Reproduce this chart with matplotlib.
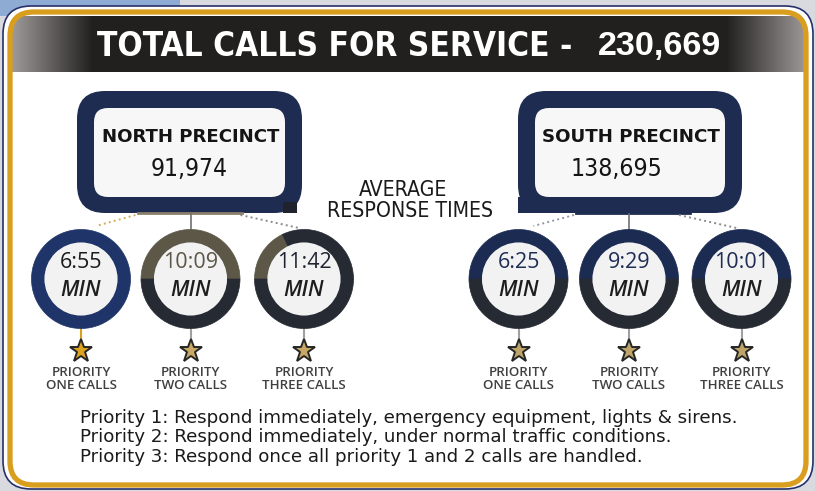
import numpy as np
import matplotlib.pyplot as plt
from matplotlib import font_manager
from matplotlib.patches import FancyBboxPatch, Wedge, Circle, Rectangle

total_calls = "230,669"
precincts = ["NORTH PRECINCT", "SOUTH PRECINCT"]
precinct_calls = ["91,974", "138,695"]
north_times = ["6:55", "10:09", "11:42"]
south_times = ["6:25", "9:29", "10:01"]
priority_labels = ["PRIORITY\nONE CALLS", "PRIORITY\nTWO CALLS", "PRIORITY\nTHREE CALLS"]
definitions = [
    "Priority 1: Respond immediately, emergency equipment, lights & sirens.",
    "Priority 2: Respond immediately, under normal traffic conditions.",
    "Priority 3: Respond once all priority 1 and 2 calls are handled.",
]

W, H = 815, 491
names = {f.name for f in font_manager.fontManager.ttflist}
BODY = 'Open Sans' if 'Open Sans' in names else 'DejaVu Sans'


def condensed_font(bold):
    # look for any narrow/condensed sans face, else plain Liberation Sans
    target = 700 if bold else 400
    best, best_d = None, 999
    for f in font_manager.fontManager.ttflist:
        nm = f.name
        if 'Mono' in nm or 'Serif' in nm or f.style != 'normal':
            continue
        if 'Narrow' in nm or 'Condensed' in nm or 'condensed' in str(f.stretch):
            w = f.weight if isinstance(f.weight, int) else (700 if 'bold' in str(f.weight) else 400)
            if abs(w - target) < best_d:
                best, best_d = f, abs(w - target)
    if best is not None and best_d <= 100:
        return font_manager.FontProperties(fname=best.fname)
    return font_manager.FontProperties(family='Liberation Sans', weight='bold' if bold else 'normal')


NARROW_B = condensed_font(True)
NARROW = condensed_font(False)

GOLD = '#d99e1e'
NAVY = '#1d2c50'
DARK = '#252a33'
BROWN = '#5d5747'


def Y(y):  # pixel row (from top) -> axes y
    return H - y


fig = plt.figure(figsize=(W / 100, H / 100), dpi=100, facecolor='#d8dadf')
ax = fig.add_axes([0, 0, 1, 1])
ax.set_xlim(0, W)
ax.set_ylim(0, H)
ax.axis('off')
renderer = fig.canvas.get_renderer()


def fit(t, width):
    w = t.get_window_extent(renderer).width
    t.set_fontsize(t.get_fontsize() * width / w)
    return t.get_fontsize()


# background bits outside the frame
ax.add_patch(Rectangle((0, Y(16)), 180, 16, fc='#8eabd4', ec='none'))

# outer panel + gold frame
ax.add_patch(FancyBboxPatch((3, Y(489)), 810, 483, boxstyle="round,pad=0,rounding_size=28",
                            fc='white', ec='#28306a', lw=1.2))

# header bar with grey->black->grey gradient
n = 400
xs = np.linspace(0, 1, n)
edge = np.clip(np.minimum(xs, 1 - xs) / 0.1, 0, 1)
shade = 0.62 - 0.49 * edge
grad = np.dstack([shade, shade * 0.97, shade * 0.96])
hdr_clip = FancyBboxPatch((12, Y(100)), 795, 88, boxstyle="round,pad=0,rounding_size=20",
                          fc='none', ec='none', transform=ax.transData)
ax.add_patch(hdr_clip)
im = ax.imshow(grad, extent=[12, 807, Y(72), Y(16)], aspect='auto', zorder=1)
im.set_clip_path(hdr_clip)
ax.add_patch(Rectangle((10, Y(100)), 797, 28, fc='white', ec='none', zorder=1.5))
ax.add_patch(FancyBboxPatch((10, Y(485)), 796, 473, boxstyle="round,pad=0,rounding_size=24",
                            fc='none', ec=GOLD, lw=3.8, zorder=2))

t = ax.text(572, Y(46), "TOTAL CALLS FOR SERVICE -", fontproperties=NARROW_B,
            color='white', ha='right', va='center', zorder=3)
t.set_fontsize(26)
fit(t, 475)
t = ax.text(598, Y(46), total_calls, family='Liberation Sans', weight='bold',
            fontsize=24, color='white', ha='left', va='center', zorder=3)
fit(t, 124)

# precinct boxes
boxes = [(77, 302), (518, 742)]
num_x = [189, 616]
num_w = [77, 92]
for i, (x0, x1) in enumerate(boxes):
    ax.add_patch(FancyBboxPatch((x0, Y(213)), x1 - x0, 122, boxstyle="round,pad=0,rounding_size=28",
                                fc=NAVY, ec='none', zorder=2))
    ax.add_patch(FancyBboxPatch((x0 + 17, Y(197)), x1 - x0 - 34, 89,
                                boxstyle="round,pad=0,rounding_size=14",
                                fc='#f7f7f7', ec='none', zorder=2))
    t = ax.text((x0 + x1) / 2 + 1, Y(136.5), precincts[i], family='DejaVu Sans', weight='bold',
                fontsize=12.8, color='#141414', ha='center', va='center', zorder=3)
    fit(t, 178)
    t = ax.text(num_x[i], Y(169), precinct_calls[i], fontproperties=NARROW,
                color='#141414', ha='center', va='center', zorder=3)
    t.set_fontsize(22)
    fit(t, num_w[i])
ax.add_patch(Rectangle((283, Y(213)), 14, 11, fc='#20232c', ec='none', zorder=2))
ax.add_patch(Rectangle((518, Y(213)), 54, 16, fc=NAVY, ec='none', zorder=2))
ax.plot([138, 242], [Y(213), Y(213)], color='#8a806a', lw=2, zorder=2)
ax.plot([576, 690], [Y(213), Y(213)], color=NAVY, lw=2, zorder=2)

t2 = ax.text(410, Y(211), "RESPONSE TIMES", fontproperties=NARROW, color='#1a1a1a',
             ha='center', va='center', zorder=3)
t2.set_fontsize(15)
fs = fit(t2, 166)
ax.text(403, Y(189.5), "AVERAGE", fontproperties=NARROW, fontsize=fs, color='#1a1a1a',
        ha='center', va='center', zorder=3)

# connectors from boxes down to the dials
for (xa, xb, xc), col0 in [((81, 190.5, 304), '#d2ad5a'), ((518.5, 629, 741.5), '#8f96a8')]:
    ax.plot([xb - 55, xa + 15], [Y(215), Y(226)], ls=':', color=col0, lw=1.4, zorder=2)
    ax.plot([xb, xb], [Y(214), Y(229)], color='#6f6f6f', lw=1.2, zorder=2)
    ax.plot([xb + 50, xc - 5], [Y(215), Y(228)], ls=':', color='#8b8b8b', lw=1.4, zorder=2)

# response time dials
circle_x = [[81, 190.5, 304], [518.5, 629, 741.5]]
cy = Y(279)
R, ring = 49.5, 13
segments = [
    [[(0, 360, '#1f3468')], [(0, 180, BROWN), (180, 360, DARK)],
     [(116, 180, BROWN), (180, 360, DARK), (0, 116, DARK)]],
    [[(0, 180, '#1c2b52'), (180, 360, DARK)]] * 3,
]
time_cols = [['#1a1a1a', BROWN, '#1f2530'], ['#1f2d55'] * 3]
star_cols = [['#dda21f', '#c9a867', '#c9a867'], ['#bfa46a'] * 3]
stem_cols = [[GOLD, '#a0a0a0', '#a0a0a0'], ['#a0a0a0'] * 3]
times = [north_times, south_times]

for p in range(2):
    for k in range(3):
        cx = circle_x[p][k]
        for t1, t2_, c in segments[p][k]:
            ax.add_patch(Wedge((cx, cy), R, t1, t2_, width=ring, fc=c, ec=c, lw=0.5, zorder=3))
        ax.add_patch(Circle((cx, cy), R - ring, fc='#f2f2f2', ec='none', zorder=3))
        ax.text(cx, Y(263), times[p][k], family=BODY, fontsize=15.5, color=time_cols[p][k],
                ha='center', va='center', zorder=4)
        ax.text(cx, Y(291), "MIN", family=BODY, style='italic', weight='semibold',
                fontsize=15.5, color='#1e1e1e', ha='center', va='center', zorder=4)
        ax.plot([cx, cx], [Y(329), Y(343)], color=stem_cols[p][k], lw=1.5, zorder=2)
        ax.plot(cx, Y(351), marker='*', markersize=17, mfc=star_cols[p][k],
                mec='#262626', mew=1.4, zorder=4)
        ax.text(cx, Y(379), priority_labels[k], family=BODY, weight='semibold', fontsize=9.6,
                color='#404040', ha='center', va='center', linespacing=0.95, zorder=4)

# priority definitions
defs = [ax.text(80, Y(418 + 19.5 * i), line, family='DejaVu Sans', fontsize=12.5,
                color='#1a1a1a', ha='left', va='center', zorder=4)
        for i, line in enumerate(definitions)]
fs = fit(defs[0], 665)
for t in defs[1:]:
    t.set_fontsize(fs)

fig.savefig('out.png', dpi=100, facecolor=fig.get_facecolor())
